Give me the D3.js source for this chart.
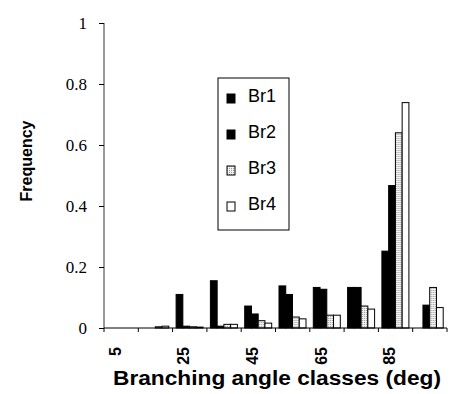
<!DOCTYPE html>
<head>
<meta charset="utf-8">
<title>Branching angle classes</title>
<script src="https://d3js.org/d3.v7.min.js"></script>
<style>
  body { margin: 0; background: #fff; }
</style>
</head>
<body>
<div id="chart"></div>
<script>
// ---------- data ----------
const classes = [5, 15, 25, 35, 45, 55, 65, 75, 85, 95];
const shownLabels = [5, 25, 45, 65, 85];
const seriesNames = ["Br1", "Br2", "Br3", "Br4"];
const br1 = [0, 0, 0.11, 0.155, 0.072, 0.138, 0.133, 0.133, 0.252, 0];
const br2 = [0, 0, 0.006, 0.006, 0.046, 0.11, 0.127, 0.133, 0.467, 0.075];
const br3 = [0, 0.004, 0.004, 0.012, 0.024, 0.036, 0.042, 0.072, 0.64, 0.133];
const br4 = [0, 0.006, 0.003, 0.012, 0.016, 0.03, 0.042, 0.062, 0.739, 0.067];
const yTicks = [0, 0.2, 0.4, 0.6, 0.8, 1];
const yTickLabels = ["0", "0.2", "0.4", "0.6", "0.8", "1"];

const values = [br1, br2, br3, br4];

// ---------- svg ----------
const width = 452, height = 394;
const svg = d3.select("#chart").append("svg")
  .attr("width", width)
  .attr("height", height);

const defs = svg.append("defs");
const pat = defs.append("pattern")
  .attr("id", "dots")
  .attr("width", 2).attr("height", 2)
  .attr("patternUnits", "userSpaceOnUse");
pat.append("rect").attr("width", 2).attr("height", 2).attr("fill", "#f2f2f2");
pat.append("rect").attr("width", 1).attr("height", 1).attr("fill", "#999");

const fills = ["#000", "#000", "url(#dots)", "#fff"];

// ---------- scales ----------
const x0 = d3.scaleBand().domain(classes).range([104, 447]).padding(0);
const x1 = d3.scaleBand().domain(seriesNames).range([3.5, 30.5]).padding(0);
const y = d3.scaleLinear().domain([0, 1]).range([328, 23]);

// ---------- bars ----------
const groups = svg.append("g").selectAll("g")
  .data(classes)
  .join("g")
  .attr("transform", d => "translate(" + x0(d) + ",0)");

groups.selectAll("rect")
  .data((d, i) => seriesNames.map((s, j) => ({ s: s, j: j, v: values[j][i] })))
  .join("rect")
  .attr("x", d => x1(d.s))
  .attr("width", x1.bandwidth())
  .attr("y", d => y(d.v))
  .attr("height", d => y(0) - y(d.v))
  .attr("fill", d => fills[d.j])
  .attr("stroke", "#000")
  .attr("stroke-width", 1);

// ---------- axes ----------
const yAxis = svg.append("g")
  .attr("transform", "translate(104,0)")
  .call(d3.axisLeft(y).tickValues(yTicks).tickSize(5).tickPadding(12)
    .tickFormat((d, i) => yTickLabels[i]));
yAxis.attr("font-family", null).attr("font-size", null);
yAxis.select(".domain").attr("stroke", "#333").attr("d", "M0," + y(1) + "V" + y(0));
yAxis.selectAll("text")
  .style("font-family", "'Liberation Serif', 'DejaVu Serif', serif")
  .style("font-size", "17px")
  .attr("fill", "#000");

const xAxis = svg.append("g")
  .attr("transform", "translate(0,328)");
xAxis.append("line")
  .attr("x1", 104).attr("x2", 447)
  .attr("stroke", "#000");
xAxis.selectAll(".tick")
  .data(classes.concat(["end"]))
  .join("line")
  .attr("x1", d => d === "end" ? x0.range()[1] : x0(d))
  .attr("x2", d => d === "end" ? x0.range()[1] : x0(d))
  .attr("y1", 0).attr("y2", 4)
  .attr("stroke", "#000");

xAxis.selectAll(".lab")
  .data(shownLabels)
  .join("text")
  .attr("transform", d => "translate(" + (x0(d) + x0.bandwidth() / 2 - 6) + ",19) rotate(-90)")
  .attr("dy", "0.35em")
  .attr("text-anchor", "end")
  .style("font-family", "'Liberation Sans', Arial, sans-serif")
  .style("font-weight", "bold")
  .style("font-size", "16px")
  .text(d => d);

// ---------- titles ----------
svg.append("text")
  .attr("x", 277).attr("y", 385)
  .attr("text-anchor", "middle")
  .attr("textLength", 328)
  .attr("lengthAdjust", "spacingAndGlyphs")
  .style("font-family", "'Liberation Sans', Arial, sans-serif")
  .style("font-weight", "bold")
  .style("font-size", "20px")
  .text("Branching angle classes (deg)");

svg.append("text")
  .attr("transform", "translate(32,161) rotate(-90)")
  .attr("text-anchor", "middle")
  .style("font-family", "'Liberation Sans', Arial, sans-serif")
  .style("font-weight", "bold")
  .style("font-size", "16px")
  .text("Frequency");

// ---------- legend ----------
const legend = svg.append("g");
legend.append("rect")
  .attr("x", 218).attr("y", 78)
  .attr("width", 71).attr("height", 152)
  .attr("fill", "#fff")
  .attr("stroke", "#000");

const items = legend.selectAll(".item")
  .data(seriesNames)
  .join("g")
  .attr("transform", (d, i) => "translate(227," + (96 + i * 36) + ")");
items.append("rect")
  .attr("x", 0).attr("y", -2)
  .attr("width", 8).attr("height", 9)
  .attr("fill", (d, i) => fills[i])
  .attr("stroke", "#000");
items.append("text")
  .attr("x", 21).attr("y", 0)
  .attr("dy", "0.35em")
  .style("font-family", "'Liberation Sans', Arial, sans-serif")
  .style("font-size", "18px")
  .text(d => d);
</script>
</body>
